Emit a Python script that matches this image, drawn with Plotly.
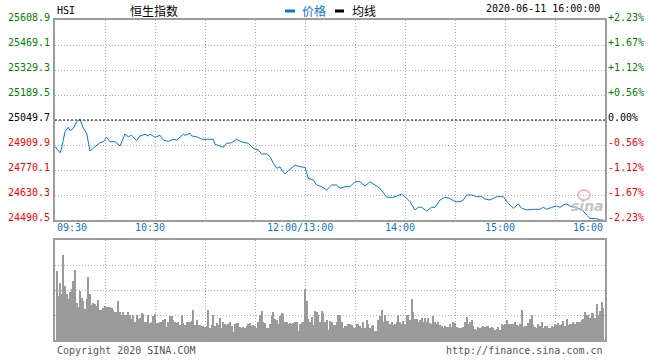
import plotly.graph_objects as go

# ---------------- data ----------------
prev_close = 25049.7
price_ticks = [25608.9, 25469.1, 25329.3, 25189.5, 25049.7, 24909.9, 24770.1, 24630.3, 24490.5]
pct_ticks = ["+2.23%", "+1.67%", "+1.12%", "+0.56%", "0.00%", "-0.56%", "-1.12%", "-1.67%", "-2.23%"]
x_tick_labels = ["09:30", "10:30", "12:00/13:00", "14:00", "15:00", "16:00"]

price_times = [
    "09:30", "09:33", "09:34", "09:36", "09:38", "09:39", "09:41", "09:43", "09:45", "09:47",
    "09:49", "09:51", "09:54", "09:57", "09:59", "10:01", "10:03", "10:06", "10:09", "10:12",
    "10:14", "10:16", "10:19", "10:21", "10:24", "10:26", "10:27", "10:30", "10:33", "10:35",
    "10:38", "10:41", "10:43", "10:47", "10:48", "10:51", "10:52", "10:55", "10:58", "11:01",
    "11:05", "11:06", "11:09", "11:11", "11:13", "11:16", "11:19", "11:22", "11:26", "11:29",
    "11:32", "11:34", "11:37", "11:39", "11:41", "11:43", "11:45", "11:46", "11:48", "11:50",
    "11:54", "11:57", "12:00",
    "13:02", "13:05", "13:07", "13:10", "13:13", "13:16", "13:19", "13:21", "13:24", "13:27",
    "13:30", "13:33", "13:36", "13:39", "13:42", "13:45", "13:49", "13:53", "13:55", "13:58",
    "14:01", "14:03", "14:06", "14:08", "14:10", "14:13", "14:16", "14:18", "14:21", "14:24",
    "14:27", "14:30", "14:33", "14:35", "14:37", "14:40", "14:43", "14:46", "14:48", "14:51",
    "14:53", "14:55", "14:59", "15:02", "15:05", "15:08", "15:10", "15:13", "15:17", "15:21",
    "15:23", "15:25", "15:28", "15:31", "15:33", "15:35", "15:37", "15:39", "15:43", "15:46",
    "15:49", "15:51", "15:55", "15:57", "15:59",
]
price_values = [
    24900.4, 24866.8, 24893.1, 24984.3, 25008.9, 24989.9, 25003.3, 25040.2, 25053.6, 25003.3,
    24975.3, 24876.3, 24900.4, 24922.8, 24928.4, 24953.0, 24928.4, 24928.4, 24904.3, 24971.4,
    24956.3, 24964.1, 24933.9, 24960.2, 24969.7, 24960.2, 24971.4, 24952.9, 24964.1, 24937.9,
    24930.6, 24941.8, 24937.9, 24969.7, 24964.1, 24975.3, 24960.2, 24956.3, 24941.8, 24941.8,
    24941.8, 24913.8, 24904.3, 24897.0, 24919.4, 24922.8, 24941.8, 24926.7, 24919.4, 24891.4,
    24882.0, 24859.6, 24859.6, 24844.5, 24807.6, 24779.6, 24788.6, 24770.1, 24747.7, 24766.2,
    24796.4, 24788.6, 24785.2,
    24723.7, 24714.2, 24686.2, 24676.7, 24658.3, 24686.2, 24686.2, 24667.8, 24676.7, 24676.7,
    24704.7, 24704.7, 24680.6, 24704.7, 24686.2, 24667.8, 24617.4, 24617.4, 24624.7, 24635.9,
    24611.8, 24592.8, 24546.4, 24561.6, 24561.6, 24540.8, 24561.6, 24561.6, 24602.3, 24617.4,
    24611.8, 24592.8, 24592.8, 24602.3, 24630.3, 24630.3, 24620.8, 24620.8, 24607.9, 24602.3,
    24611.8, 24620.8, 24620.8, 24583.9, 24555.9, 24579.9, 24555.9, 24546.4, 24550.3, 24550.3,
    24561.6, 24550.3, 24561.6, 24568.8, 24561.6, 24574.4, 24580.0, 24568.8, 24556.0, 24550.3,
    24518.5, 24500.0, 24497.8, 24490.5, 24490.5,
]

# one bar per minute, 09:31 ... 16:00 (relative units)
volume = [
    69, 44, 57, 46, 85, 54, 46, 41, 48, 51, 59, 70, 37, 33, 49, 42, 39, 31, 41, 63,
    46, 35, 37, 36, 34, 40, 30, 30, 32, 34, 33, 33, 33, 32, 30, 28, 28, 39, 28, 25,
    28, 25, 25, 28, 25, 21, 25, 18, 25, 21, 22, 27, 26, 18, 18, 25, 17, 18, 24, 26,
    17, 17, 18, 18, 20, 21, 13, 18, 24, 24, 20, 18, 17, 18, 15, 25, 17, 15, 18, 18,
    18, 19, 30, 15, 20, 15, 15, 14, 14, 13, 14, 30, 12, 15, 25, 14, 17, 15, 22, 12,
    18, 16, 15, 16, 18, 14, 8, 16, 17, 17, 13, 12, 13, 12, 14, 16, 17, 14, 15, 14,
    12, 18, 25, 29, 18, 17, 12, 12, 16, 24, 28, 21, 20, 16, 24, 27, 26, 18, 18, 16,
    17, 16, 17, 18, 18, 9, 16, 17, 18,
    51, 39, 21, 18, 23, 15, 29, 28, 25, 18, 29, 27, 18, 20, 10,
    19, 18, 15, 15, 18, 25, 25, 18, 12, 14, 14, 16, 16, 15, 13, 12, 16, 16, 14, 12,
    18, 12, 20, 16, 12, 14, 15, 9, 9, 20, 24, 30, 18, 25, 19, 19, 16, 18, 15, 16,
    18, 25, 18, 16, 19, 16, 24, 25, 20, 41, 28, 21, 21, 18, 20, 22, 18, 22, 18, 22,
    17, 16, 24, 18, 16, 18, 15, 14, 12, 14, 13, 13, 16, 13, 18, 17, 13, 12, 12, 12,
    13, 18, 23, 16, 18, 20, 14, 11, 10, 13, 12, 13, 14, 13, 14, 14, 12, 13, 12, 10,
    11, 13, 10, 16, 15, 16, 20, 16, 16, 16, 16, 18, 15, 14, 16, 30, 13, 14, 14, 17,
    21, 25, 15, 13, 12, 16, 14, 18, 12, 14, 14, 12, 12, 14, 13, 16, 15, 17, 15, 16,
    19, 14, 21, 15, 16, 16, 18, 16, 18, 18, 18, 20, 21, 28, 25, 25, 22, 27, 27, 22,
    36, 25, 29, 38, 32,
]


def to_min(t):
    """Trading-minute index: 09:30 -> 0, 12:00/13:00 -> 150, 16:00 -> 330."""
    h, m = map(int, t.split("/")[0].split(":"))
    total = h * 60 + m
    if total <= 12 * 60:
        return total - 570
    return total - 780 + 150


BLUE = "#0b78cf"
GREEN = "#008000"
RED = "#ff0000"
GRID = "#b0b0b0"
FRAME = "#9c9c9c"
MONO = "DejaVu Sans Mono"
CJK = "Noto Sans CJK SC"

fig = go.Figure()
fig.add_trace(go.Scatter(
    x=[to_min(t) for t in price_times], y=price_values, mode="lines",
    line=dict(color=BLUE, width=1), xaxis="x", yaxis="y", hoverinfo="skip"))
fig.add_trace(go.Bar(
    x=list(range(1, len(volume) + 1)), y=volume, width=0.45,
    marker=dict(color="#9a9a9a", line=dict(width=0)),
    xaxis="x2", yaxis="y2", hoverinfo="skip"))

ax_common = dict(showgrid=True, gridcolor=GRID, griddash="1px,2px", gridwidth=1,
                 showticklabels=False, ticks="", showline=True, mirror=True,
                 linecolor=FRAME, linewidth=2, zeroline=False, fixedrange=True)

fig.update_layout(
    width=660, height=360,
    margin=dict(l=55, r=55, t=20, b=20),
    paper_bgcolor="white", plot_bgcolor="white", showlegend=False,
    bargap=0,
    xaxis=dict(domain=[0, 1], range=[0, 330], anchor="y", tick0=0, dtick=30, **ax_common),
    yaxis=dict(domain=[0.375, 1], range=[price_ticks[-1], price_ticks[0]],
               tickvals=price_ticks, anchor="x", **ax_common),
    xaxis2=dict(domain=[0, 1], range=[0, 330], anchor="y2", tick0=0, dtick=30, **ax_common),
    yaxis2=dict(domain=[0, 0.3125], range=[0, 100], tickvals=[25, 50, 75], anchor="x2", **ax_common),
)

# previous close reference line
fig.add_shape(type="line", xref="x", yref="y", x0=0, x1=330, y0=prev_close, y1=prev_close,
              line=dict(color="black", width=1, dash="2px,2px"))


def px_x(px):
    return (px - 55) / 550.0


def px_y(py):
    return (340 - py) / 320.0


ann = []
for i, (v, p) in enumerate(zip(price_ticks, pct_ticks)):
    c = GREEN if i < 4 else ("black" if i == 4 else RED)
    ann.append(dict(xref="paper", yref="y", x=0, y=v, xanchor="right", yanchor="middle",
                    xshift=-3, yshift=3, text=f"{v:.1f}", showarrow=False,
                    font=dict(family=MONO, size=10, color=c)))
    ann.append(dict(xref="paper", yref="y", x=1, y=v, xanchor="left", yanchor="middle",
                    xshift=1, yshift=3, text=p, showarrow=False,
                    font=dict(family=MONO, size=10, color=c)))

for i, t in enumerate(x_tick_labels):
    if i == 0:
        xa, xs = "left", 0
    elif i == len(x_tick_labels) - 1:
        xa, xs = "right", 0
    else:
        xa, xs = "center", -5
    ann.append(dict(xref="x", yref="paper", x=to_min(t), y=px_y(227), xanchor=xa, yanchor="middle",
                    xshift=xs, text=t, showarrow=False, font=dict(family=MONO, size=10, color=BLUE)))

# header
ann.append(dict(xref="paper", yref="paper", x=px_x(55), y=px_y(10), xanchor="left", yanchor="middle",
                text="HSI", showarrow=False, font=dict(family=MONO, size=10, color="black")))
ann.append(dict(xref="paper", yref="paper", x=px_x(154), y=px_y(10), xanchor="center", yanchor="middle",
                text="恒生指数", showarrow=False, font=dict(family=CJK, size=12, color="black")))
ann.append(dict(xref="paper", yref="paper", x=px_x(300), y=px_y(10), xanchor="left", yanchor="middle",
                text="价格", showarrow=False, font=dict(family=CJK, size=12, color=BLUE)))
ann.append(dict(xref="paper", yref="paper", x=px_x(350), y=px_y(10), xanchor="left", yanchor="middle",
                text="均线", showarrow=False, font=dict(family=CJK, size=12, color="black")))
ann.append(dict(xref="paper", yref="paper", x=px_x(602), y=px_y(9), xanchor="right", yanchor="middle",
                text="2020-06-11 16:00:00", showarrow=False, font=dict(family=MONO, size=10, color="black")))
# footer
ann.append(dict(xref="paper", yref="paper", x=px_x(55), y=px_y(350), xanchor="left", yanchor="middle",
                text="Copyright 2020 SINA.COM", showarrow=False, font=dict(family=MONO, size=10, color="#555555")))
ann.append(dict(xref="paper", yref="paper", x=px_x(605), y=px_y(350), xanchor="right", yanchor="middle",
                text="http://finance.sina.com.cn", showarrow=False, font=dict(family=MONO, size=10, color="#555555")))
# watermark
ann.append(dict(xref="paper", yref="paper", x=px_x(587), y=px_y(206), xanchor="center", yanchor="middle",
                text="<b><i>sina</i></b>", showarrow=False, font=dict(family="DejaVu Sans", size=14, color="#c4c4c4")))
fig.update_layout(annotations=ann)

# legend swatches and watermark eye
fig.add_shape(type="rect", xref="paper", yref="paper", x0=px_x(285), x1=px_x(295), y0=px_y(12.5), y1=px_y(9.5),
              fillcolor=BLUE, line=dict(width=0))
fig.add_shape(type="rect", xref="paper", yref="paper", x0=px_x(335), x1=px_x(344), y0=px_y(12.5), y1=px_y(9.5),
              fillcolor="black", line=dict(width=0))
fig.add_shape(type="circle", xref="paper", yref="paper", x0=px_x(578), x1=px_x(590), y0=px_y(200), y1=px_y(190),
              line=dict(color="#f4b8c0", width=2), fillcolor="rgba(0,0,0,0)")

fig.write_html("out.html", config={"displayModeBar": False},
               post_script="document.body.style.margin='0';document.body.style.overflow='hidden';")
